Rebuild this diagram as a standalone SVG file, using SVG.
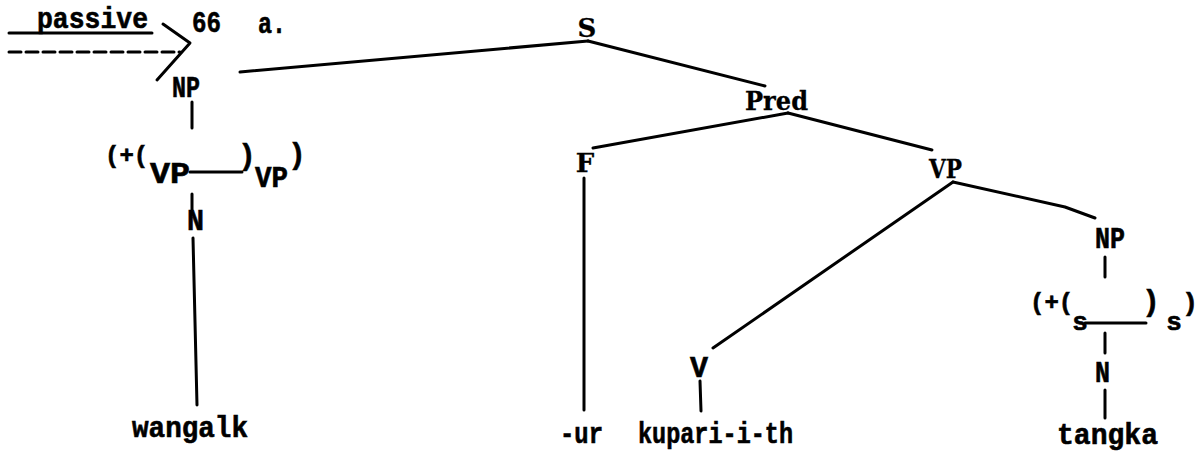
<svg xmlns="http://www.w3.org/2000/svg" width="1196" height="456" viewBox="0 0 1196 456">
<style>
text{font-family:"Liberation Mono","Courier New",monospace;font-weight:bold;font-size:29px;fill:#000;stroke:#000;stroke-width:0.6}
.m{text-anchor:middle}
.p{font-size:24px}
.q{font-size:26px}
.sf{font-family:"DejaVu Serif","Liberation Serif",serif;font-size:26px;stroke-width:0.3}
line,polyline{stroke:#000;stroke-width:3;fill:none;stroke-linecap:round;stroke-linejoin:round}
</style>
<rect width="1196" height="456" fill="#fff"/>
<g id="heading">
<text x="37" y="28" textLength="111" lengthAdjust="spacingAndGlyphs">passive</text>
<text x="192" y="32" textLength="29" lengthAdjust="spacingAndGlyphs">66</text>
<text x="258" y="33" textLength="28" lengthAdjust="spacingAndGlyphs">a.</text>
</g>
<g id="arrow">
<line x1="9" y1="33" x2="152" y2="33"/>
<line x1="9" y1="52" x2="180" y2="52" stroke-dasharray="12 5" stroke-linecap="butt"/>
<polyline points="163,24 190,43 157,80"/>
</g>
<g id="node-S"><text class="m sf" x="587" y="37">S</text></g>
<g id="node-NP1"><text x="172" y="97" textLength="28" lengthAdjust="spacingAndGlyphs">NP</text></g>
<g id="node-Pred"><text class="sf" x="745" y="110" textLength="63" lengthAdjust="spacingAndGlyphs">Pred</text></g>
<g id="node-F"><text class="m sf" x="585" y="172">F</text></g>
<g id="node-VP"><text class="sf" x="929" y="178" textLength="33" lengthAdjust="spacingAndGlyphs">VP</text></g>
<g id="node-rel1">
<text class="p" x="105" y="163">(+(</text>
<text x="150" y="183" textLength="40" lengthAdjust="spacingAndGlyphs">VP</text>
<text class="m" x="247" y="165">)</text>
<text x="255" y="187" textLength="33" lengthAdjust="spacingAndGlyphs">VP</text>
<text class="m" x="297" y="164">)</text>
</g>
<g id="node-N1"><text x="187" y="230" textLength="17" lengthAdjust="spacingAndGlyphs">N</text></g>
<g id="node-NP2"><text x="1095" y="248" textLength="30" lengthAdjust="spacingAndGlyphs">NP</text></g>
<g id="node-rel2">
<text class="p" x="1030" y="310">(+(</text>
<text class="m q" x="1080" y="330">s</text>
<text class="m" x="1151" y="311">)</text>
<text class="m q" x="1174" y="330">s</text>
<text class="m q" x="1190" y="311">)</text>
</g>
<g id="node-N2"><text x="1095" y="382" textLength="15" lengthAdjust="spacingAndGlyphs">N</text></g>
<g id="node-V"><text x="690" y="377" textLength="18" lengthAdjust="spacingAndGlyphs">V</text></g>
<g id="leaf-wangalk"><text x="132" y="437" textLength="116" lengthAdjust="spacingAndGlyphs">wangalk</text></g>
<g id="leaf-ur"><text x="560" y="443" textLength="43" lengthAdjust="spacingAndGlyphs">-ur</text></g>
<g id="leaf-kupari"><text x="638" y="443" textLength="155" lengthAdjust="spacingAndGlyphs">kupari-i-th</text></g>
<g id="leaf-tangka"><text x="1057" y="444" textLength="101" lengthAdjust="spacingAndGlyphs">tangka</text></g>
<g id="connectors">
<line x1="240" y1="72" x2="588" y2="41"/>
<line x1="588" y1="41" x2="765" y2="86"/>
<line x1="788" y1="113" x2="593" y2="148"/>
<line x1="788" y1="113" x2="932" y2="150"/>
<line x1="584" y1="178" x2="584" y2="410"/>
<line x1="953" y1="182" x2="713" y2="348"/>
<polyline points="953,182 1065,207 1095,218"/>
<line x1="192" y1="102" x2="192" y2="128"/>
<line x1="190" y1="172" x2="242" y2="172"/>
<line x1="192" y1="194" x2="192" y2="210"/>
<line x1="193" y1="238" x2="197" y2="405"/>
<line x1="1105" y1="257" x2="1105" y2="277"/>
<line x1="1085" y1="323" x2="1146" y2="323"/>
<line x1="1105" y1="333" x2="1105" y2="353"/>
<line x1="1105" y1="390" x2="1105" y2="418"/>
<line x1="700" y1="381" x2="701" y2="411"/>
</g>
</svg>
